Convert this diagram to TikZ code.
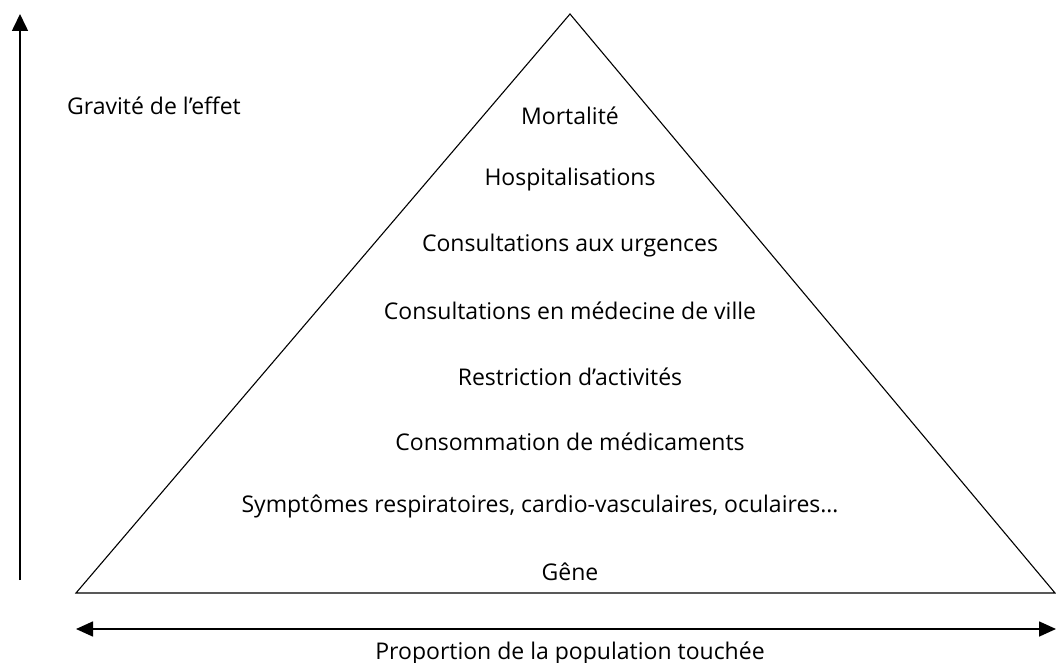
\documentclass[tikz,border=0pt]{standalone}
\usepackage{fontspec}
\setmainfont{Open Sans}
\usetikzlibrary{arrows.meta}
\begin{document}
\begin{tikzpicture}[x=1pt,y=-1pt,
  lbl/.style={font=\fontsize{23}{27}\selectfont, inner sep=0pt, anchor=center},
  tip/.style={Triangle[length=17pt,width=16pt]},
  axis/.style={line width=1.6pt, -{Triangle[length=17pt,width=16pt]}},
  biaxis/.style={line width=1.6pt, {Triangle[length=17pt,width=15pt]}-{Triangle[length=17pt,width=15pt]}}]
\useasboundingbox (0,0) rectangle (1056,663);
\coordinate (apex) at (570,14);
\coordinate (bl) at (76,593);
\coordinate (br) at (1055,593);
\draw[line width=1.1pt, line join=miter] (apex) -- (bl) -- (br) -- cycle;
\coordinate (vb) at (20,580);
\coordinate (vt) at (20,14);
\draw[axis] (vb) -- (vt);
\coordinate (hl) at (76,629);
\coordinate (hr) at (1056,629);
\draw[biaxis] (hl) -- (hr);
\node[lbl, anchor=west] (grav) at (67,106) {Gravité de l’effet};
\node[lbl] (prop) at (570,653) {Proportion de la population touchée};
\node[lbl] (n1) at (570,116) {Mortalité};
\node[lbl] (n2) at (570,180) {Hospitalisations};
\node[lbl] (n3) at (570,246) {Consultations aux urgences};
\node[lbl] (n4) at (570,311) {Consultations en médecine de ville};
\node[lbl] (n5) at (570,377) {Restriction d’activités};
\node[lbl] (n6) at (570,442) {Consommation de médicaments};
\node[lbl] (n7) at (540,506) {Symptômes respiratoires, cardio-vasculaires, oculaires…};
\node[lbl] (n8) at (570,572) {Gêne};
\end{tikzpicture}
\end{document}
